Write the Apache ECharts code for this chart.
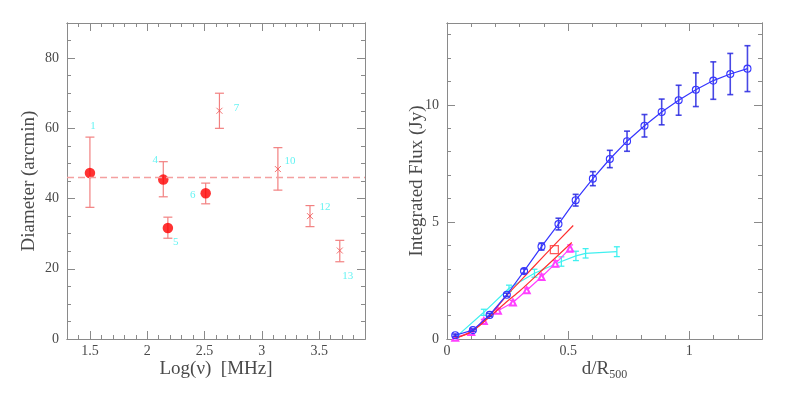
<!DOCTYPE html>
<html><head><meta charset="utf-8">
<script src="https://cdn.jsdelivr.net/npm/echarts@6/dist/echarts.min.js"></script>
<style>html,body{margin:0;padding:0;background:#fff}#c{width:789px;height:399px}</style>
</head><body><div id="c"></div>
<script>
// ---------- Left panel data ----------
const leftIds    = ['1', '4', '5', '6', '7', '10', '12', '13'];
const leftLogNu  = [1.50, 2.14, 2.18, 2.51, 2.63, 3.14, 3.42, 3.68];
const leftDiam   = [47.3, 45.4, 31.6, 41.5, 65.0, 48.4, 35.0, 25.2];
const leftErrLo  = [37.5, 40.5, 28.7, 38.5, 60.0, 42.4, 32.0, 22.0];
const leftErrHi  = [57.5, 50.5, 34.7, 44.4, 70.0, 54.5, 38.0, 28.1];
const leftFilled = [true, true, true, true, false, false, false, false];
const meanDiameter = 46.0;
const leftXTicks = [1.5, 2, 2.5, 3, 3.5];
const leftYTicks = [0, 20, 40, 60, 80];

// ---------- Right panel data ----------
const blueX   = [0.034, 0.107, 0.176, 0.247, 0.318, 0.390, 0.460, 0.531, 0.602, 0.672, 0.743, 0.815, 0.886, 0.956, 1.027, 1.099, 1.169, 1.240];
const blueY   = [0.16, 0.38, 1.03, 1.89, 2.90, 3.95, 4.91, 5.93, 6.85, 7.69, 8.45, 9.11, 9.70, 10.20, 10.65, 11.04, 11.32, 11.55];
const blueErr = [0.05, 0.05, 0.06, 0.07, 0.10, 0.15, 0.25, 0.25, 0.30, 0.37, 0.43, 0.48, 0.55, 0.64, 0.72, 0.80, 0.88, 0.98];
const cyanX   = [0.039, 0.152, 0.256, 0.361, 0.472, 0.532, 0.572, 0.701];
const cyanY   = [0.10, 1.14, 2.17, 2.81, 3.31, 3.55, 3.66, 3.73];
const cyanErr = [0.05, 0.13, 0.13, 0.17, 0.20, 0.20, 0.20, 0.21];
const magX    = [0.034, 0.100, 0.152, 0.210, 0.272, 0.329, 0.390, 0.447, 0.508];
const magY    = [0.05, 0.30, 0.77, 1.21, 1.56, 2.08, 2.65, 3.22, 3.87];
const magErr  = [0.03, 0.05, 0.07, 0.08, 0.09, 0.10, 0.12, 0.13, 0.15];
const redUpperX = [0.03, 0.10, 0.176, 0.25, 0.30, 0.40, 0.521];
const redUpperY = [0.02, 0.32, 1.00, 1.90, 2.45, 3.55, 4.85];
const redLowerX = [0.03, 0.10, 0.176, 0.25, 0.30, 0.40, 0.515];
const redLowerY = [0.02, 0.30, 0.95, 1.62, 2.05, 3.01, 4.12];
const redSquare = [0.443, 3.82];
const rightXTicks = [0, 0.5, 1];
const rightYTicks = [0, 5, 10];

// ---------- styles ----------
const FONT = 'Liberation Serif';
const AXIS_COLOR = '#8a8a8a';
const TEXT_COLOR = '#4a4a4a';
const leftLabelOffsets = [[3,-47],[-8,-19],[8,14],[-13,2],[17,-3],[12,-8],[15,-9],[8,26]];
const leftRect  = {left: 67,  top: 23, width: 298, height: 316};
const rightRect = {left: 447, top: 23, width: 315, height: 316};

function pairs(xs, ys) { return xs.map((x, i) => [x, ys[i]]); }

function majorAxis(dim, pos, gridIndex, min, max, ticks, withLabels, name, nameGap, nameTextStyle) {
  const a = {
    type: 'value', gridIndex, position: pos, min, max, scale: false,
    axisLine: {show: true, onZero: false, lineStyle: {color: AXIS_COLOR, width: 1}},
    axisTick: {show: true, inside: true, length: 8, customValues: ticks, lineStyle: {color: AXIS_COLOR}},
    axisLabel: {show: withLabels, customValues: ticks, fontFamily: FONT, fontSize: 14, color: TEXT_COLOR,
                margin: dim === 'x' ? 5 : 8, showMinLabel: true, showMaxLabel: true},
    splitLine: {show: false}
  };
  if (name) {
    a.name = name; a.nameLocation = 'middle'; a.nameGap = nameGap; a.nameMoveOverlap = false;
    a.nameTextStyle = Object.assign({fontFamily: FONT, fontSize: 19, color: TEXT_COLOR}, nameTextStyle || {});
  }
  return a;
}
function minorAxis(pos, gridIndex, min, max, interval) {
  return {
    type: 'value', gridIndex, position: pos, min, max, interval,
    axisLine: {show: true, onZero: false, lineStyle: {color: AXIS_COLOR, width: 1}},
    axisTick: {show: true, inside: true, length: 4, lineStyle: {color: AXIS_COLOR}},
    axisLabel: {show: false},
    splitLine: {show: false}
  };
}

function errorBars(xi, yi, xs, lo, hi, color, capHalf, width, z) {
  return {
    type: 'custom', xAxisIndex: xi, yAxisIndex: yi, z: z || 2, silent: true,
    data: xs.map((x, i) => [x, lo[i], hi[i]]),
    encode: {x: 0, y: [1, 2]},
    renderItem(params, api) {
      const x = api.value(0);
      const p1 = api.coord([x, api.value(1)]);
      const p2 = api.coord([x, api.value(2)]);
      const st = {stroke: color, lineWidth: width};
      return {type: 'group', children: [
        {type: 'line', shape: {x1: p1[0], y1: p1[1], x2: p2[0], y2: p2[1]}, style: st},
        {type: 'line', shape: {x1: p1[0] - capHalf, y1: p1[1], x2: p1[0] + capHalf, y2: p1[1]}, style: st},
        {type: 'line', shape: {x1: p2[0] - capHalf, y1: p2[1], x2: p2[0] + capHalf, y2: p2[1]}, style: st}
      ]};
    }
  };
}

const labelStyle = {show: true, position: 'inside', fontFamily: FONT, fontSize: 11, color: '#3ff0f0'};
function leftPoints(filled) {
  const out = [];
  leftLogNu.forEach((x, i) => {
    if (leftFilled[i] === filled) {
      out.push({value: [x, leftDiam[i]], label: Object.assign({}, labelStyle, {formatter: leftIds[i], offset: leftLabelOffsets[i]})});
    }
  });
  return out;
}

const blueLo = blueY.map((y, i) => y - blueErr[i]);
const blueHi = blueY.map((y, i) => y + blueErr[i]);
const cyanLo = cyanY.map((y, i) => y - cyanErr[i]);
const cyanHi = cyanY.map((y, i) => y + cyanErr[i]);
const magLo  = magY.map((y, i) => y - magErr[i]);
const magHi  = magY.map((y, i) => y + magErr[i]);

const option = {
  backgroundColor: '#fff',
  animation: false,
  grid: [
    Object.assign({containLabel: false}, leftRect),
    Object.assign({containLabel: false}, leftRect),
    Object.assign({containLabel: false}, rightRect),
    Object.assign({containLabel: false}, rightRect)
  ],
  xAxis: [
    majorAxis('x', 'bottom', 0, 1.3, 3.9, leftXTicks, true, 'Log(\u03bd)  [MHz]', 21),
    majorAxis('x', 'top', 0, 1.3, 3.9, leftXTicks, false),
    minorAxis('bottom', 1, 1.3, 3.9, 0.1),
    minorAxis('top', 1, 1.3, 3.9, 0.1),
    majorAxis('x', 'bottom', 2, 0, 1.3, rightXTicks, true, '{n|d/R}{s|500}', 18,
      {rich: {n: {fontFamily: FONT, fontSize: 19, color: TEXT_COLOR, lineHeight: 24},
              s: {fontFamily: FONT, fontSize: 12, color: TEXT_COLOR, verticalAlign: 'bottom', lineHeight: 12}}}),
    majorAxis('x', 'top', 2, 0, 1.3, rightXTicks, false),
    minorAxis('bottom', 3, 0, 1.3, 0.1),
    minorAxis('top', 3, 0, 1.3, 0.1)
  ],
  yAxis: [
    majorAxis('y', 'left', 0, 0, 90, leftYTicks, true, 'Diameter (arcmin)', 28),
    majorAxis('y', 'right', 0, 0, 90, leftYTicks, false),
    minorAxis('left', 1, 0, 90, 5),
    minorAxis('right', 1, 0, 90, 5),
    majorAxis('y', 'left', 2, 0, 13.5, rightYTicks, true, 'Integrated Flux (Jy)', 20),
    majorAxis('y', 'right', 2, 0, 13.5, rightYTicks, false),
    minorAxis('left', 3, 0, 13.5, 1),
    minorAxis('right', 3, 0, 13.5, 1)
  ],
  series: [
    // ----- left panel -----
    {
      type: 'line', xAxisIndex: 0, yAxisIndex: 0, data: [], silent: true,
      markLine: {silent: true, symbol: 'none', label: {show: false},
        lineStyle: {color: '#f4a0a0', type: [7, 4], width: 1.3},
        data: [{yAxis: meanDiameter}]}
    },
    errorBars(0, 0, leftLogNu, leftErrLo, leftErrHi, '#f28080', 4.5, 1.2, 2),
    {
      type: 'scatter', xAxisIndex: 0, yAxisIndex: 0, z: 3,
      symbol: 'circle', symbolSize: 10.5,
      itemStyle: {color: '#ff0000'},
      data: leftPoints(true)
    },
    {
      type: 'scatter', xAxisIndex: 0, yAxisIndex: 0, z: 3,
      symbol: 'path://M0,0L10,10M10,0L0,10', symbolSize: 6,
      itemStyle: {color: 'transparent', borderColor: '#f05050', borderWidth: 1},
      data: leftPoints(false)
    },
    // ----- right panel -----
    errorBars(4, 4, cyanX, cyanLo, cyanHi, '#40f0f0', 3, 1.3, 2),
    {
      type: 'line', xAxisIndex: 4, yAxisIndex: 4, z: 2, showSymbol: false,
      lineStyle: {color: '#40f0f0', width: 1.2}, data: pairs(cyanX, cyanY)
    },
    errorBars(4, 4, magX, magLo, magHi, '#ff40ff', 3, 1.3, 3),
    {
      type: 'line', xAxisIndex: 4, yAxisIndex: 4, z: 3, symbol: 'emptyTriangle', symbolSize: 6, showSymbol: true,
      itemStyle: {color: '#ff40ff', borderColor: '#ff40ff', borderWidth: 1},
      lineStyle: {color: '#ff40ff', width: 1.2}, data: pairs(magX, magY)
    },
    {
      type: 'line', xAxisIndex: 4, yAxisIndex: 4, z: 4, showSymbol: false, smooth: 0.3,
      lineStyle: {color: '#ff3030', width: 1.2}, data: pairs(redUpperX, redUpperY)
    },
    {
      type: 'line', xAxisIndex: 4, yAxisIndex: 4, z: 4, showSymbol: false, smooth: 0.3,
      lineStyle: {color: '#ff3030', width: 1.2}, data: pairs(redLowerX, redLowerY)
    },
    {
      type: 'scatter', xAxisIndex: 4, yAxisIndex: 4, z: 5, symbol: 'rect', symbolSize: 8,
      itemStyle: {color: 'transparent', borderColor: '#ff3030', borderWidth: 1.2},
      data: [redSquare]
    },
    errorBars(4, 4, blueX, blueLo, blueHi, 'rgba(40,40,225,0.85)', 3, 1.6, 5),
    {
      type: 'line', xAxisIndex: 4, yAxisIndex: 4, z: 6, symbol: 'circle', symbolSize: 7, showSymbol: true,
      itemStyle: {color: 'transparent', borderColor: '#3535ff', borderWidth: 1.1},
      lineStyle: {color: '#3535ff', width: 1.2}, data: pairs(blueX, blueY)
    }
  ]
};

const chart = echarts.init(document.getElementById('c'), null, {renderer: 'canvas'});
chart.setOption(option);
</script>
</body></html>
